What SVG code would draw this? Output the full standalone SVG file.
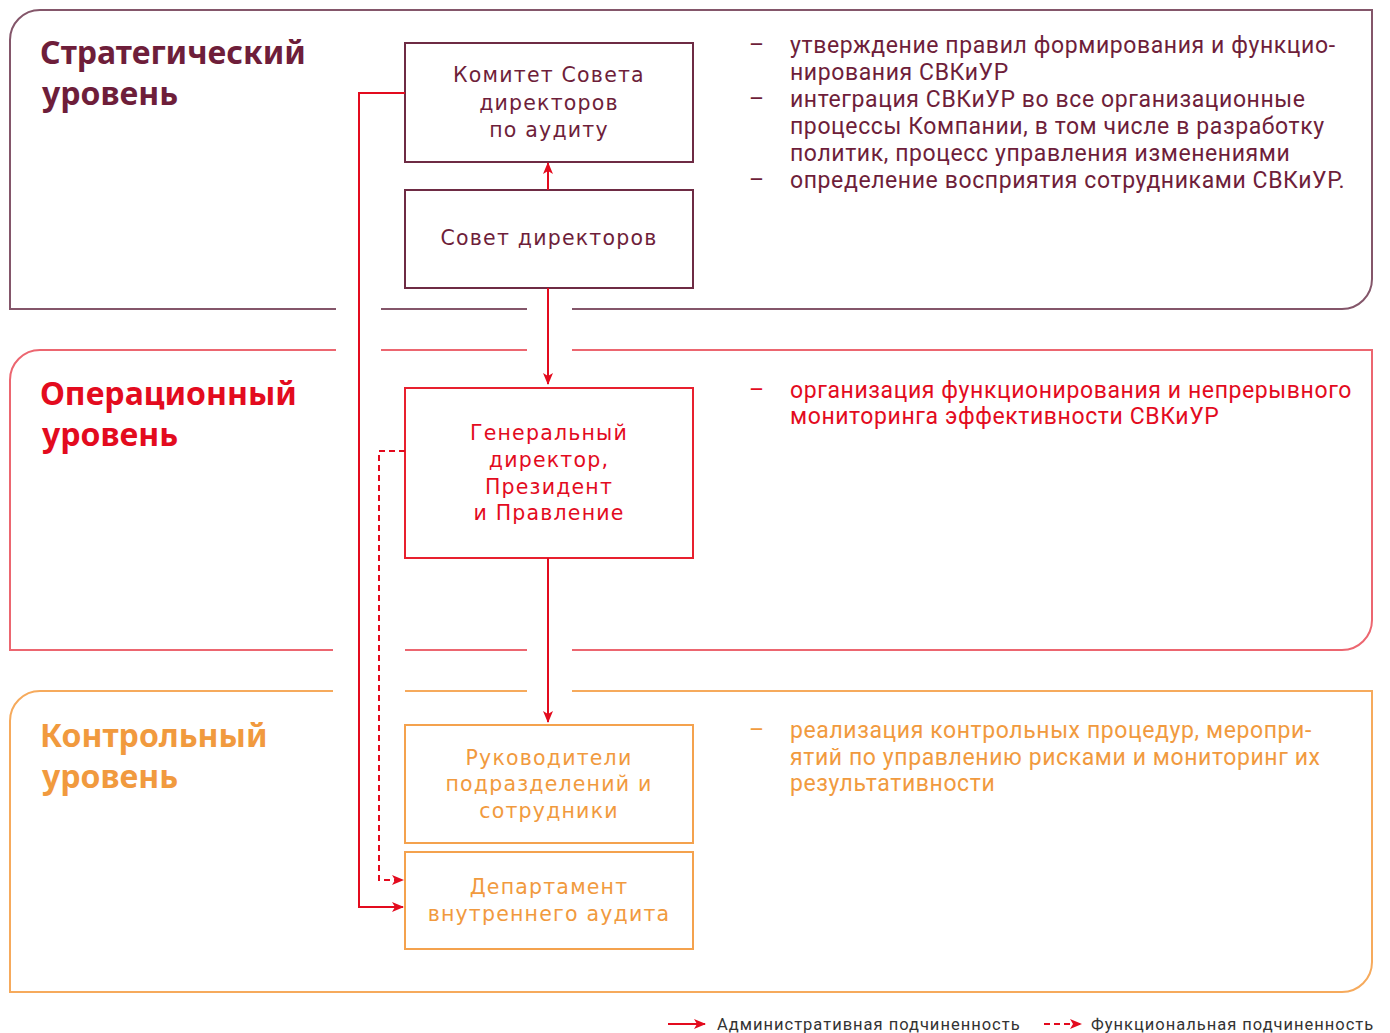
<svg xmlns="http://www.w3.org/2000/svg" width="1390" height="1033" viewBox="0 0 1390 1033">
<defs>
<style>
.pm{fill:none;stroke:#84566a;stroke-width:2}
.pr{fill:none;stroke:#ec6670;stroke-width:2}
.po{fill:none;stroke:#f6aa5c;stroke-width:2}
.bm{fill:#fff;stroke:#6e2b44;stroke-width:2}
.br{fill:#fff;stroke:#e8202e;stroke-width:2}
.bo{fill:#fff;stroke:#f4a24e;stroke-width:2}
.title{font-family:"Noto Sans","Open Sans",sans-serif;font-weight:bold;font-size:32px}
.box{font-family:"DejaVu Sans","Open Sans",sans-serif;font-size:20.5px;text-anchor:middle;letter-spacing:1.2px}
.desc{font-family:"Roboto","Noto Sans",sans-serif;font-size:23px;letter-spacing:0.6px}
.cm{fill:#6e1e3a}
.cr{fill:#e30b1e}
.co{fill:#f19a3e}
.conn{fill:none;stroke:#e30b1e;stroke-width:2}
.dash{stroke-dasharray:6 4}
.leg{font-family:"Roboto","Liberation Sans",sans-serif;font-size:16.5px;letter-spacing:1px;fill:#333}
</style>
<marker id="ah" viewBox="0 0 12 10" refX="11" refY="5" markerWidth="12" markerHeight="10" markerUnits="userSpaceOnUse" orient="auto">
<path d="M0,0 L12,5 L0,10 L3,5 Z" fill="#e30b1e"/>
</marker>
</defs>

<g id="panel-strategic">
<path class="pm" d="M336,309 L10,309 L10,40 A30,30 0 0 1 40,10 L1372,10 L1372,279 A30,30 0 0 1 1342,309 L572,309 M381,309 L527,309"/>
<text class="title cm" x="40" y="64">Стратегический</text>
<text class="title cm" x="42" y="105">уровень</text>
<g class="desc cm">
<text x="749" y="53">–</text><text x="790" y="53">утверждение правил формирования и функцио-</text>
<text x="790" y="80">нирования СВКиУР</text>
<text x="749" y="107">–</text><text x="790" y="107">интеграция СВКиУР во все организационные</text>
<text x="790" y="134">процессы Компании, в том числе в разработку</text>
<text x="790" y="161">политик, процесс управления изменениями</text>
<text x="749" y="188">–</text><text x="790" y="188">определение восприятия сотрудниками СВКиУР.</text>
</g>
</g>

<g id="panel-operational">
<path class="pr" d="M336,350 L40,350 A30,30 0 0 0 10,380 L10,650 L333,650 M405,650 L527,650 M572,650 L1342,650 A30,30 0 0 0 1372,620 L1372,350 L572,350 M381,350 L527,350"/>
<text class="title cr" x="40" y="405">Операционный</text>
<text class="title cr" x="42" y="446">уровень</text>
<g class="desc cr">
<text x="749" y="398">–</text><text x="790" y="398">организация функционирования и непрерывного</text>
<text x="790" y="424">мониторинга эффективности СВКиУР</text>
</g>
</g>

<g id="panel-control">
<path class="po" d="M333,691 L40,691 A30,30 0 0 0 10,721 L10,992 L1342,992 A30,30 0 0 0 1372,962 L1372,691 L572,691 M405,691 L527,691"/>
<text class="title co" x="40" y="747">Контрольный</text>
<text class="title co" x="42" y="788">уровень</text>
<g class="desc co">
<text x="749" y="738">–</text><text x="790" y="738">реализация контрольных процедур, меропри-</text>
<text x="790" y="765">ятий по управлению рисками и мониторинг их</text>
<text x="790" y="791">результативности</text>
</g>
</g>

<g id="node-committee">
<rect class="bm" x="405" y="43" width="288" height="119"/>
<text class="box cm" x="549" y="82">Комитет Совета</text>
<text class="box cm" x="549" y="110">директоров</text>
<text class="box cm" x="549" y="137">по аудиту</text>
</g>
<g id="node-board">
<rect class="bm" x="405" y="190" width="288" height="98"/>
<text class="box cm" x="549" y="245">Совет директоров</text>
</g>
<g id="node-ceo">
<rect class="br" x="405" y="388" width="288" height="170"/>
<text class="box cr" x="549" y="440">Генеральный</text>
<text class="box cr" x="549" y="467">директор,</text>
<text class="box cr" x="549" y="494">Президент</text>
<text class="box cr" x="549" y="520">и Правление</text>
</g>
<g id="node-managers">
<rect class="bo" x="405" y="725" width="288" height="118"/>
<text class="box co" x="549" y="765">Руководители</text>
<text class="box co" x="549" y="791">подразделений и</text>
<text class="box co" x="549" y="818">сотрудники</text>
</g>
<g id="node-audit">
<rect class="bo" x="405" y="852" width="288" height="97"/>
<text class="box co" x="549" y="894">Департамент</text>
<text class="box co" x="549" y="921">внутреннего аудита</text>
</g>

<g id="connectors">
<path class="conn" d="M548,190 L548,163" marker-end="url(#ah)"/>
<path class="conn" d="M548,288 L548,384" marker-end="url(#ah)"/>
<path class="conn" d="M548,558 L548,722" marker-end="url(#ah)"/>
<path class="conn" d="M405,93 L359,93 L359,907 L403,907" marker-end="url(#ah)"/>
<path class="conn dash" d="M405,451 L379,451 L379,880 L403,880" marker-end="url(#ah)"/>
</g>

<g id="legend">
<path class="conn" d="M668,1024 L705,1024" marker-end="url(#ah)"/>
<text class="leg" x="717" y="1030">Административная подчиненность</text>
<path class="conn dash" d="M1044,1024 L1081,1024" marker-end="url(#ah)"/>
<text class="leg" x="1091" y="1030">Функциональная подчиненность</text>
</g>
</svg>
